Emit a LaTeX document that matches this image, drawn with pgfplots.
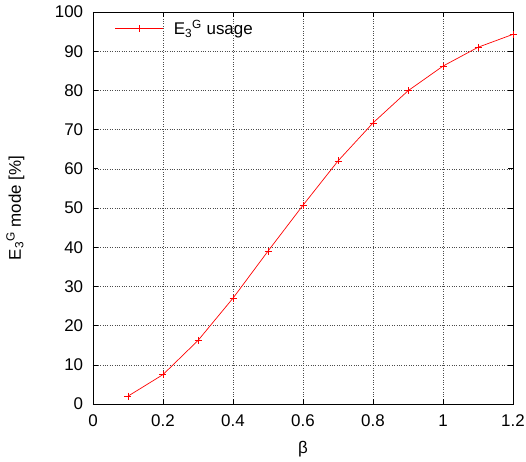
\documentclass[border=0pt]{standalone}
\usepackage{fontspec}
\setmainfont{Liberation Sans}
\usepackage{pgfplots}
\pgfplotsset{compat=1.18}
\begin{document}
\fontsize{17}{20}\selectfont
\begin{tikzpicture}
\begin{axis}[
  name=ax,
  scale only axis,
  width=420bp, height=392bp,
  xmin=0, xmax=1.2, ymin=0, ymax=100,
  xtick={0,0.2,...,1.2},
  ytick={0,10,...,100},
  xticklabels={0,0.2,0.4,0.6,0.8,1,1.2},
  /pgf/number format/assume math mode=true,
  tick align=inside,
  major tick length=5bp,
  tick style={black, line width=0.6pt},
  axis line style={black, line width=0.8pt},
  grid=major,
  major grid style={black!70, dotted, line width=0.5pt},
  xticklabel style={yshift=-5bp},
  yticklabel style={xshift=-4bp},
  xlabel={β},
  ylabel={E\textsubscript{3}\textsuperscript{G} mode [\%]},
  xlabel style={yshift=-3bp},
  ylabel style={yshift=19bp},
  legend style={at={(0.045,0.99)}, anchor=north west, draw=none, fill=none,
    font=\fontsize{17}{20}\selectfont},
  legend cell align=left,
  legend image code/.code={\draw[mark repeat=2,mark phase=2,#1,red] plot coordinates {(0bp,0bp) (24bp,0bp) (48bp,0bp)}; \path (56bp,0bp);},
]
\addplot[red, line width=0.7pt, mark=+, mark size=3.5bp, mark options={solid, line width=0.7pt}]
coordinates {
(0.1,2.0) (0.2,7.5) (0.3,16.2) (0.4,27.0) (0.5,39.0) (0.6,50.7)
(0.7,62.0) (0.8,71.7) (0.9,79.9) (1.0,86.2) (1.1,91.0) (1.2,94.3)
};
\addlegendentry{E\textsubscript{3}\textsuperscript{G} usage}
\end{axis}
\pgfresetboundingbox
\path (ax.south west) ++(-93bp,-58bp) rectangle ++(526bp,462bp);
\end{tikzpicture}
\end{document}
